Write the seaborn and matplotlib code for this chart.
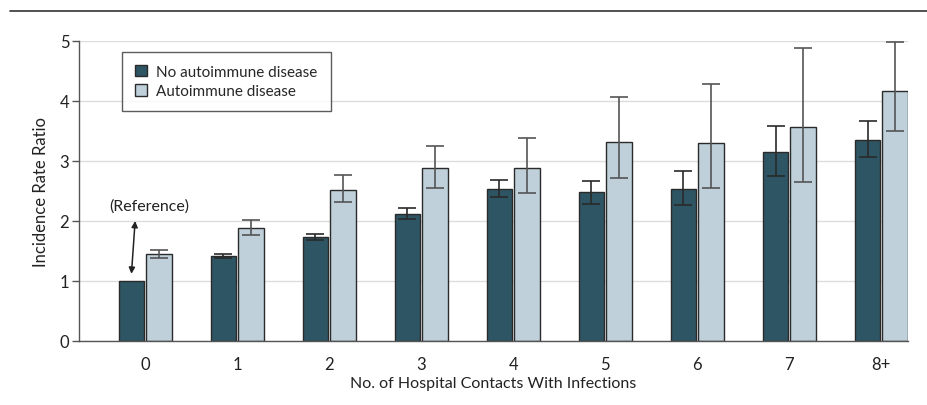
import numpy as np
import pandas as pd
import matplotlib.pyplot as plt
import seaborn as sns
from matplotlib.lines import Line2D

# values
contacts = ["0", "1", "2", "3", "4", "5", "6", "7", "8+"]
groups = ["No autoimmune disease", "Autoimmune disease"]

irr_no = [1.00, 1.42, 1.74, 2.12, 2.54, 2.48, 2.53, 3.15, 3.35]
lo_no = [1.00, 1.39, 1.69, 2.04, 2.40, 2.29, 2.27, 2.75, 3.06]
hi_no = [1.00, 1.45, 1.79, 2.21, 2.68, 2.67, 2.83, 3.58, 3.67]

irr_ai = [1.45, 1.88, 2.52, 2.89, 2.89, 3.32, 3.30, 3.56, 4.17]
lo_ai = [1.38, 1.76, 2.31, 2.55, 2.46, 2.72, 2.55, 2.65, 3.50]
hi_ai = [1.52, 2.01, 2.77, 3.25, 3.39, 4.07, 4.29, 4.88, 4.98]

dark = "#2e5563"
light = "#bfd0da"

df = pd.DataFrame({
    "contacts": contacts * 2,
    "group": [groups[0]] * len(contacts) + [groups[1]] * len(contacts),
    "irr": irr_no + irr_ai,
})

sns.set_style("white")
plt.rcParams["font.family"] = ["Lato", "DejaVu Sans"]

fig = plt.figure(figsize=(9.27, 4.06), dpi=100)
ax = fig.add_axes([79 / 927, 1 - 342 / 406, (908 - 79) / 927, 300 / 406])

sns.barplot(data=df, x="contacts", y="irr", hue="group", order=contacts,
            hue_order=groups, palette=[dark, light], saturation=1, width=0.6, gap=0.07,
            errorbar=None, edgecolor="#2a2a2a", linewidth=1.0, ax=ax,
            zorder=2)

# confidence intervals drawn on top of each bar
for cont, lo, hi, ecol in zip(ax.containers, [lo_no, lo_ai], [hi_no, hi_ai], ["#2a2a2a", "#555555"]):
    for bar, l, h in zip(cont, lo, hi):
        if h - l < 1e-6:
            continue
        xc = bar.get_x() + bar.get_width() / 2
        ax.errorbar(xc, (l + h) / 2, yerr=(h - l) / 2, fmt="none",
                    ecolor=ecol, elinewidth=1.2, capsize=6.5, capthick=1.2, zorder=3)

ax.set_ylim(0, 5)
ax.set_xlim(-0.72, 8.29)
ax.set_yticks(range(6))
ax.yaxis.grid(True, color="#dddddd", linewidth=1.0, zorder=0)
ax.set_axisbelow(True)
for s in ["top", "right"]:
    ax.spines[s].set_visible(False)
for s in ["left", "bottom"]:
    ax.spines[s].set_color("#555555")
    ax.spines[s].set_linewidth(1.0)
ax.tick_params(axis="y", left=True, length=5, width=1, color="#555555",
               labelsize=12, labelcolor="#222222", pad=2)
ax.tick_params(axis="x", bottom=False, labelsize=12, labelcolor="#222222", pad=7)

ax.set_xlabel("No. of Hospital Contacts With Infections", fontsize=11.5, color="#222222", labelpad=3)
ax.set_ylabel("Incidence Rate Ratio", fontsize=12, color="#222222", labelpad=8)

# reference annotation
ax.annotate("", xy=(-0.15, 1.12), xytext=(-0.11, 2.0),
            arrowprops=dict(arrowstyle="<|-|>", color="#222222", lw=1.1,
                            mutation_scale=9, shrinkA=0, shrinkB=0))
ax.text(0.04, 2.25, "(Reference)", ha="center", va="center", fontsize=11.5, color="#222222")

leg = ax.legend(loc="upper left", bbox_to_anchor=(43 / 829, 0.964), frameon=True,
                fontsize=11, handlelength=0.8, handleheight=0.8, handletextpad=0.6,
                borderpad=0.85, labelspacing=0.35, borderaxespad=0, fancybox=False, title=None)
leg.get_frame().set_edgecolor("#333333")
leg.get_frame().set_linewidth(1.0)

# rule under the (cropped) figure title
fig.add_artist(Line2D([10 / 927, 1.0], [1 - 12 / 406, 1 - 12 / 406], color="#333333", linewidth=1.2))

fig.savefig("out.png", dpi=100)
